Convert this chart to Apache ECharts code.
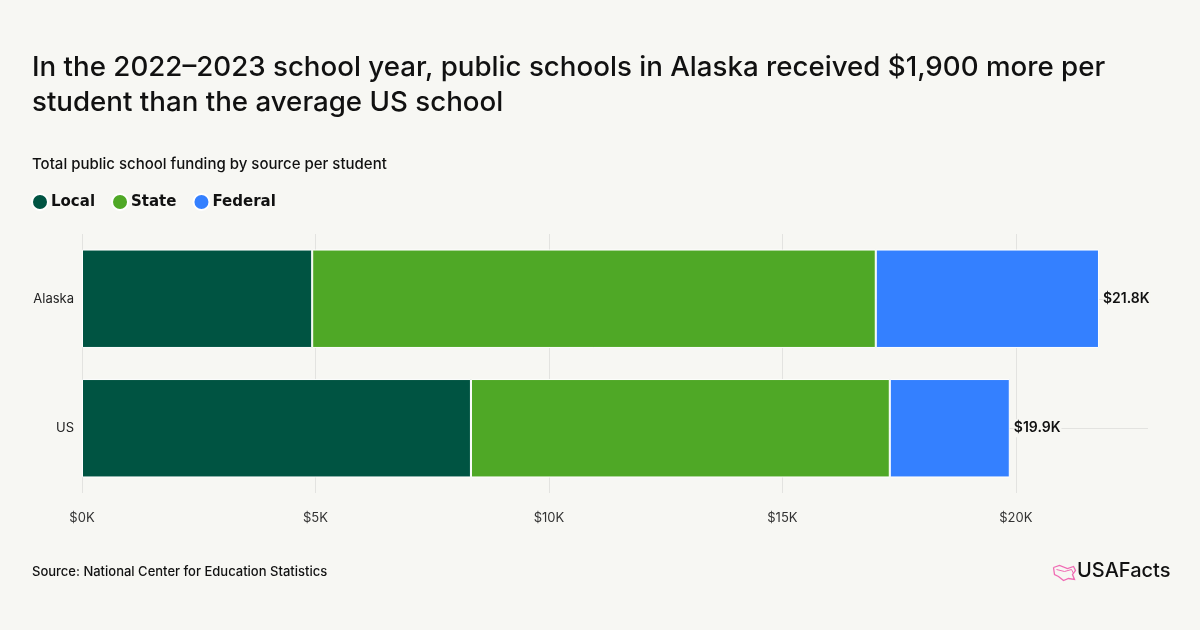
<!DOCTYPE html>
<html>
<head>
<meta charset="utf-8">
<title>Alaska school funding</title>
<script src="https://cdn.jsdelivr.net/npm/echarts@6/dist/echarts.min.js"></script>
<style>
  html, body { margin: 0; padding: 0; background: #f7f7f3; }
  #main { width: 1200px; height: 630px; }
</style>
</head>
<body>
<div id="main"></div>
<script>
// data, in $K per student
var categories = ['Alaska', 'US'];
var localVals = [4.93, 8.33];
var stateVals = [12.07, 8.97];
var federalVals = [4.78, 2.57];
var totalLabels = ['$21.8K', '$19.9K'];
var tickLabels = ['$0K', '$5K', '$10K', '$15K', '$20K'];

var FONT = 'Inter, "Noto Sans", sans-serif';
var colors = { local: '#005442', state: '#4fa826', federal: '#3480ff' };

var chart = echarts.init(document.getElementById('main'));

function seg(name, vals, color, withTotal) {
    var s = {
        name: name,
        type: 'bar',
        stack: 'total',
        data: vals,
        barWidth: '76%',
        z: 3,
        itemStyle: { color: color, borderColor: '#ffffff', borderWidth: 1 },
        emphasis: { disabled: true }
    };
    if (withTotal) {
        s.label = {
            show: true,
            position: 'right',
            distance: 4,
            color: '#111',
            fontFamily: FONT,
            fontSize: 14,
            fontWeight: 600,
            backgroundColor: '#f7f7f3',
            padding: [2, 1, 2, 0],
            formatter: function (p) { return totalLabels[p.dataIndex]; }
        };
    }
    return s;
}

var option = {
    backgroundColor: '#f7f7f3',
    animation: false,
    title: [{
        text: 'In the 2022\u20132023 school year, public schools in Alaska received $1,900 more per\nstudent than the average US school',
        left: 32, top: 50, padding: 0,
        textStyle: { fontFamily: FONT, fontSize: 27.7, fontWeight: 500, color: '#111', lineHeight: 35 }
    }, {
        text: 'Total public school funding by source per student',
        left: 32, top: 157, padding: 0,
        textStyle: { fontFamily: FONT, fontSize: 15, fontWeight: 500, color: '#111' }
    }, {
        text: 'Source: National Center for Education Statistics',
        left: 32, top: 566, padding: 0,
        textStyle: { fontFamily: FONT, fontSize: 13, fontWeight: 500, color: '#111' }
    }],
    legend: {
        left: 31, top: 193, padding: 0,
        icon: 'circle',
        itemWidth: 16, itemHeight: 16, itemGap: 16,
        selectedMode: false,
        textStyle: { fontFamily: '"DejaVu Sans", sans-serif', fontSize: 15, fontWeight: 'bold', color: '#111', padding: [0, 0, 0, -2] },
        data: ['Local', 'State', 'Federal']
    },
    grid: { left: 82, right: 52, top: 234, bottom: 137 },
    xAxis: {
        type: 'value',
        min: 0, max: 22.83, interval: 5,
        axisLine: { show: false },
        axisTick: { show: false },
        splitLine: { show: true, showMaxLine: false, lineStyle: { color: '#e3e3e0', width: 1 } },
        axisLabel: {
            showMaxLabel: false,
            margin: 19,
            color: '#333', fontFamily: FONT, fontSize: 13,
            formatter: function (v) { return tickLabels[Math.round(v / 5)] || ''; }
        }
    },
    yAxis: {
        type: 'category',
        data: categories,
        inverse: true,
        axisLine: { show: false },
        axisTick: { show: false },
        splitLine: { show: false },
        axisLabel: { margin: 8, color: '#222', fontFamily: FONT, fontSize: 13 }
    },
    series: [
        seg('Local', localVals, colors.local, false),
        seg('State', stateVals, colors.state, false),
        seg('Federal', federalVals, colors.federal, true),
        {
            // faint centre guide line behind the bars
            type: 'line', data: [], silent: true, z: 1,
            markLine: {
                silent: true, symbol: 'none', label: { show: false }, z: 1,
                lineStyle: { color: '#e3e3e0', type: 'solid', width: 1 },
                data: categories.map(function (c) { return { yAxis: c }; })
            }
        }
    ],
    graphic: [{
        type: 'text', left: 1077, top: 561,
        style: { text: 'USAFacts', fontFamily: FONT, fontSize: 20, fontWeight: 500, fill: '#111' }
    }, {
        type: 'polyline', left: 1051, top: 563,
        shape: { points: [[0, 2], [6, 0], [14, 3], [20, 1], [22, 5], [19, 9], [21, 14], [15, 13], [10, 15], [5, 11], [1, 9], [0, 2]] },
        style: { stroke: '#f06bb4', fill: 'none', lineWidth: 1.3 }
    }, {
        type: 'polyline', left: 1054, top: 567,
        shape: { points: [[0, 1], [8, 3], [15, 1], [17, 5]] },
        style: { stroke: '#f06bb4', fill: 'none', lineWidth: 1 }
    }]
};

chart.setOption(option);
</script>
</body>
</html>
